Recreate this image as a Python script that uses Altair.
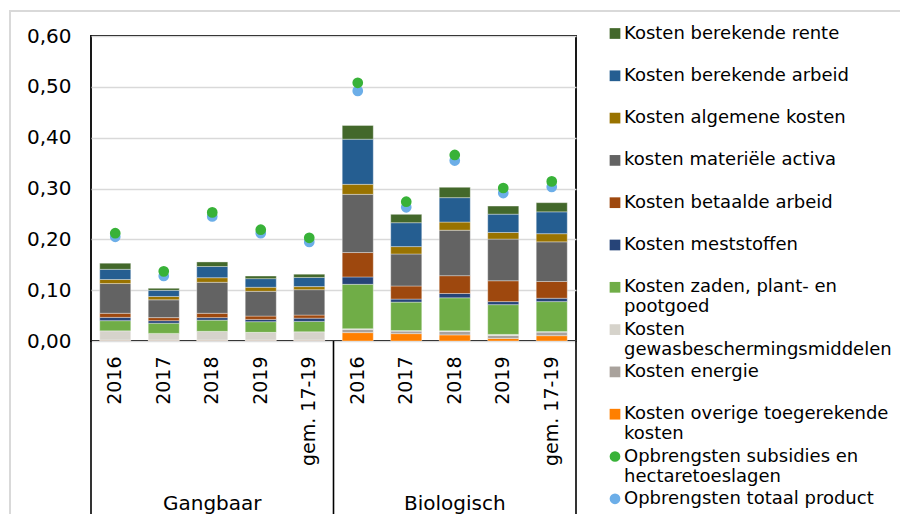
import json
import altair as alt
import pandas as pd

# ---------------- data ----------------
groups = ["Gangbaar"] * 5 + ["Biologisch"] * 5
periods = ["2016", "2017", "2018", "2019", "gem. 17-19"] * 2
keys = [("G|" if g == "Gangbaar" else "B|") + p for g, p in zip(groups, periods)]

# cost components (stack order bottom -> top)
overige = [0.001, 0.001, 0.001, 0.001, 0.001, 0.0165, 0.0145, 0.012, 0.005, 0.0105]
energie = [0.001, 0.001, 0.001, 0.001, 0.001, 0.0065, 0.005, 0.007, 0.006, 0.007]
gewas = [0.018, 0.013, 0.017, 0.015, 0.016, 0.001, 0.001, 0.001, 0.002, 0.001]
zaden = [0.020, 0.020, 0.022, 0.021, 0.0205, 0.0875, 0.056, 0.065, 0.0585, 0.059]
meststoffen = [0.0065, 0.005, 0.005, 0.0045, 0.0065, 0.0145, 0.006, 0.0085, 0.006, 0.0066]
betaald = [0.008, 0.006, 0.0085, 0.0065, 0.006, 0.048, 0.0257, 0.035, 0.041, 0.033]
materieel = [0.0585, 0.035, 0.061, 0.0487, 0.050, 0.1145, 0.063, 0.0895, 0.082, 0.078]
algemeen = [0.008, 0.0066, 0.009, 0.008, 0.006, 0.0197, 0.0145, 0.016, 0.013, 0.016]
ber_arbeid = [0.020, 0.012, 0.022, 0.017, 0.018, 0.0888, 0.047, 0.048, 0.036, 0.043]
ber_rente = [0.012, 0.004, 0.009, 0.005, 0.0065, 0.027, 0.0165, 0.0204, 0.016, 0.018]

# revenues (points)
subsidies = [0.212, 0.137, 0.253, 0.219, 0.203, 0.508, 0.274, 0.366, 0.301, 0.314]
totaal = [0.205, 0.128, 0.245, 0.212, 0.195, 0.492, 0.263, 0.355, 0.291, 0.303]

cost_series = [
    ("Kosten overige toegerekende kosten", overige),
    ("Kosten energie", energie),
    ("Kosten gewasbeschermingsmiddelen", gewas),
    ("Kosten zaden, plant- en pootgoed", zaden),
    ("Kosten meststoffen", meststoffen),
    ("Kosten betaalde arbeid", betaald),
    ("kosten materiële activa", materieel),
    ("Kosten algemene kosten", algemeen),
    ("Kosten berekende arbeid", ber_arbeid),
    ("Kosten berekende rente", ber_rente),
]
point_series = [
    ("Opbrengsten totaal product", totaal),
    ("Opbrengsten subsidies en hectaretoeslagen", subsidies),
]

legend_order = [
    "Kosten berekende rente",
    "Kosten berekende arbeid",
    "Kosten algemene kosten",
    "kosten materiële activa",
    "Kosten betaalde arbeid",
    "Kosten meststoffen",
    "Kosten zaden, plant- en pootgoed",
    "Kosten gewasbeschermingsmiddelen",
    "Kosten energie",
    "Kosten overige toegerekende kosten",
    "Opbrengsten subsidies en hectaretoeslagen",
    "Opbrengsten totaal product",
]
colors = [
    "#43682B", "#255E91", "#997300", "#636363", "#9E480E",
    "#264478", "#70AD47", "#D6D3CB", "#A9A29C", "#FF7F00",
    "#38B238", "#6CAEE8",
]
shapes = ["square"] * 10 + ["circle"] * 2

wrap = {
    "Kosten zaden, plant- en pootgoed": ["Kosten zaden, plant- en", "pootgoed"],
    "Kosten gewasbeschermingsmiddelen": ["Kosten", "gewasbeschermingsmiddelen"],
    "Kosten overige toegerekende kosten": ["Kosten overige toegerekende", "kosten"],
    "Opbrengsten subsidies en hectaretoeslagen": ["Opbrengsten subsidies en", "hectaretoeslagen"],
}

rows = []
for order, (name, vals) in enumerate(cost_series):
    for k, v in zip(keys, vals):
        rows.append({"key": k, "serie": name, "value": v, "ord": order})
bars_df = pd.DataFrame(rows)

prow = []
for name, vals in point_series:
    for k, v in zip(keys, vals):
        prow.append({"key": k, "serie": name, "value": v})
points_df = pd.DataFrame(prow)

group_df = pd.DataFrame({"key": ["G|2018", "B|2018"], "label": ["Gangbaar", "Biologisch"]})
sep_start_df = pd.DataFrame({"key": ["G|2016", "B|2016"]})
sep_end_df = pd.DataFrame({"key": ["B|gem. 17-19"]})
border_df = pd.DataFrame({"a": [0]})

# ---------------- layout ----------------
W, H = 485, 305
FONT = "DejaVu Sans"

label_expr = "".join(
    f"datum.label == {json.dumps(k)} ? {json.dumps(v)} : " for k, v in wrap.items()
) + "datum.label"

legend = alt.Legend(
    title=None, orient="none", legendX=515, legendY=-11.5, padding=0,
    labelFont=FONT, labelFontSize=18, labelColor="#000000", labelLimit=340,
    labelOffset=0, symbolSize=115, symbolStrokeWidth=0, rowPadding=4.3,
    gridAlign="all", labelExpr=label_expr,
)

color_scale = alt.Scale(domain=legend_order, range=colors)
shape_scale = alt.Scale(domain=legend_order, range=shapes)

xscale = alt.Scale(domain=keys, paddingInner=0, paddingOuter=0)
xaxis = alt.Axis(
    title=None, labelAngle=-90, labelExpr="split(datum.label, '|')[1]",
    ticks=False, domain=False, grid=False, labelPadding=15,
    labelFont=FONT, labelFontSize=19, labelColor="#000000",
)
yscale = alt.Scale(domain=[0, 0.6], nice=False)
yaxis = alt.Axis(
    title=None, values=[0, 0.1, 0.2, 0.3, 0.4, 0.5, 0.6],
    labelExpr="replace(format(datum.value, '.2f'), '.', ',')",
    ticks=False, domain=False, grid=True, gridColor="#D9D9D9", gridWidth=1.3,
    labelPadding=20, labelFont=FONT, labelFontSize=20, labelColor="#000000",
)

X = alt.X("key:N", scale=xscale, axis=xaxis, sort=keys)

border = alt.Chart(border_df).mark_rect(
    fillOpacity=0, stroke="#D9D9D9", strokeWidth=2
).encode(
    x=alt.value(-81), x2=alt.value(3000), y=alt.value(-25), y2=alt.value(3000)
)

bars = alt.Chart(bars_df).mark_bar(
    width={"band": 0.64}, stroke="#FFFFFF", strokeWidth=0.5, strokeOpacity=0.7
).encode(
    x=X,
    y=alt.Y("value:Q", stack="zero", scale=yscale, axis=yaxis),
    color=alt.Color("serie:N", scale=color_scale, legend=legend),
    order=alt.Order("ord:Q", sort="ascending"),
)

points = alt.Chart(points_df).mark_point(
    filled=True, size=115, opacity=1
).encode(
    x=X,
    y=alt.Y("value:Q", scale=yscale, axis=yaxis),
    color=alt.Color("serie:N", scale=color_scale, legend=legend),
    shape=alt.Shape("serie:N", scale=shape_scale, legend=legend),
)

sep_start = alt.Chart(sep_start_df).mark_rule(color="#000000", strokeWidth=1.6).encode(
    x=alt.X("key:N", scale=xscale, axis=xaxis, sort=keys, bandPosition=0),
    y=alt.value(H), y2=alt.value(H + 177),
)
sep_end = alt.Chart(sep_end_df).mark_rule(color="#000000", strokeWidth=1.6).encode(
    x=alt.X("key:N", scale=xscale, axis=xaxis, sort=keys, bandPosition=1),
    y=alt.value(H), y2=alt.value(H + 177),
)

group_text = alt.Chart(group_df).mark_text(
    font=FONT, fontSize=20, color="#000000", baseline="middle", align="center"
).encode(
    x=X, y=alt.value(H + 163), text="label:N",
)

chart = alt.layer(border, bars, points, sep_start, sep_end, group_text).properties(
    width=W, height=H,
    autosize=alt.AutoSizeParams(type="none"),
    padding={"left": 83, "top": 28, "right": 324, "bottom": 173},
    background="#FFFFFF",
).configure_view(
    stroke="#000000", strokeWidth=1.8
)

chart.save("out.html", embed_options={"renderer": "svg", "actions": False})
